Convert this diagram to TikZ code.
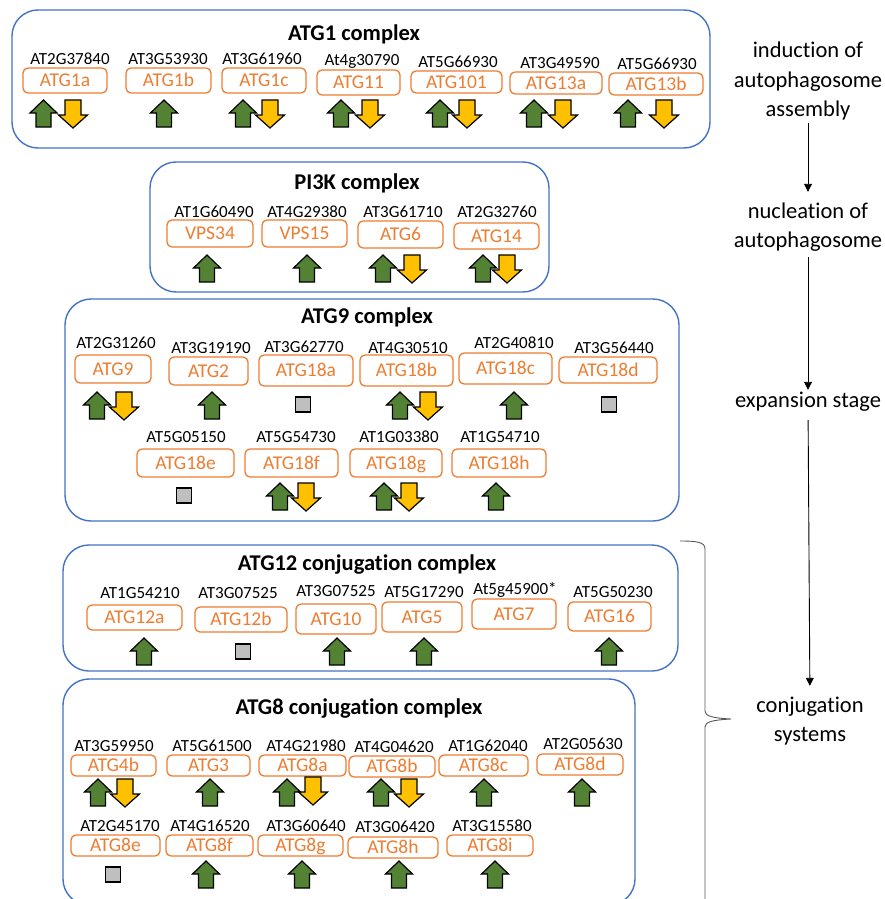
\documentclass[tikz,border=0pt]{standalone}
\usepackage{fontspec}
\setmainfont{Carlito}[Ligatures={NoCommon}]
\usetikzlibrary{arrows.meta}
\definecolor{cblue}{HTML}{4472C4}
\definecolor{corange}{HTML}{ED7D31}
\definecolor{cgreen}{HTML}{548235}
\definecolor{cyellow}{HTML}{FFC000}
\definecolor{cgray}{HTML}{BFBFBF}
\tikzset{
  cplx/.style={draw=cblue, line width=1.4pt, rounded corners=26pt},
  genebox/.style={draw=corange, text=corange, line width=1.3pt, rounded corners=5pt, inner sep=0pt,
    font=\fontsize{19.5}{21}\selectfont, text height=12.5pt, text depth=0pt},
  idlbl/.style={inner sep=0pt, font=\fontsize{17}{19}\selectfont, text height=11pt, text depth=0pt},
  ttl/.style={inner sep=0pt, font=\fontsize{22.5}{26}\selectfont\bfseries, text height=14.5pt, text depth=0pt},
  stage/.style={inner sep=2pt, font=\fontsize{22.5}{26}\selectfont, text height=15pt, text depth=5pt, anchor=base},
  upar/.style={fill=cgreen, draw=black, line width=1.2pt},
  dnar/.style={fill=cyellow, draw=black, line width=1.2pt},
  sqr/.style={fill=cgray, draw=black, line width=1.2pt},
  flow/.style={draw=black, line width=0.9pt, -{Triangle[width=8pt,length=8pt]}},
  bracepath/.style={draw=black!65, line width=0.9pt},
}
\newcommand\garr[2]{\draw[upar] (#1,#2) -- ++(13.5,13) -- ++(-6,0) -- ++(0,14) -- ++(-15,0) -- ++(0,-14) -- ++(-6,0) -- cycle;}
\newcommand\yarr[2]{\draw[dnar] ({#1-8},#2) -- ++(16,0) -- ++(0,15) -- ++(6.5,0) -- ++(-14.5,13) -- ++(-14.5,-13) -- ++(6.5,0) -- cycle;}
\newcommand\gsq[2]{\draw[sqr] ({#1-7.5},#2) rectangle ++(15,15);}
\newcommand\gene[9]{%
  \node[genebox, minimum width={(#4-#3)*1pt}, minimum height={(#6-#5)*1pt}] (#1) at ({(#3+#4)/2},{(#5+#6)/2}) {#2};
  \node[idlbl] (#1id) at (#8,#9) {#7};}
\begin{document}
\begin{tikzpicture}[x=1pt,y=-1pt]
\useasboundingbox (0,0) rectangle (885,899);
\clip (0,0) rectangle (885,899);
\fill[white] (0,0) rectangle (885,899);

% ---------- ATG1 complex
\draw[cplx] (12,10) rectangle (710,148);
\node[ttl] (t1) at (354,33) {ATG1 complex};
\gene{g1a}{ATG1a}{23}{107}{68}{93}{AT2G37840}{70}{59}
\gene{g1b}{ATG1b}{126}{211}{68}{93}{AT3G53930}{168}{59}
\gene{g1c}{ATG1c}{222}{306}{68}{93}{AT3G61960}{262}{59}
\gene{g11}{ATG11}{317}{400}{70}{95}{At4g30790}{362}{60}
\gene{g101}{ATG101}{411}{502}{71}{93}{AT5G66930}{458}{62}
\gene{g13a}{ATG13a}{510}{602}{72}{94}{AT3G49590}{560}{63}
\gene{g13b}{ATG13b}{609}{703}{73}{95}{AT5G66930}{657}{64}
\garr{43.5}{100}\yarr{73}{100}
\garr{164}{100}
\garr{243}{100}\yarr{270}{100}
\garr{341}{100}\yarr{370}{100}
\garr{440}{100}\yarr{467}{100}
\garr{534}{100}\yarr{563}{100}
\garr{628}{100}\yarr{664}{100}

% ---------- PI3K complex
\draw[cplx] (150,162) rectangle (549,292);
\node[ttl] (t2) at (357,182) {PI3K complex};
\gene{vps34}{VPS34}{167}{253}{220}{247}{AT1G60490}{214}{212}
\gene{vps15}{VPS15}{262}{347}{220}{247}{AT4G29380}{307}{212}
\gene{g6}{ATG6}{358}{443}{221}{248}{AT3G61710}{403}{212}
\gene{g14}{ATG14}{454}{539}{223}{249}{AT2G32760}{497}{212}
\garr{207}{255}
\garr{307}{255}
\garr{383}{255}\yarr{412}{255}
\garr{483}{255}\yarr{507}{255}

% ---------- ATG9 complex
\draw[cplx] (65,299) rectangle (679,521);
\node[ttl] (t3) at (367,316) {ATG9 complex};
\gene{g9}{ATG9}{75}{151}{355}{383}{AT2G31260}{116}{343}
\gene{g2}{ATG2}{169}{248}{357}{385}{AT3G19190}{211}{348}
\gene{g18a}{ATG18a}{259}{353}{355}{386}{AT3G62770}{304}{347}
\gene{g18b}{ATG18b}{360}{453}{355}{386}{AT4G30510}{408}{348}
\gene{g18c}{ATG18c}{459}{552}{353}{384}{AT2G40810}{514}{343}
\gene{g18d}{ATG18d}{559}{657}{357}{383}{AT3G56440}{614}{348}
\garr{97}{392}\yarr{124}{392}
\garr{212}{392}
\gsq{303}{397}
\garr{400}{392}\yarr{428}{392}
\garr{514}{392}
\gsq{609}{397}
\gene{g18e}{ATG18e}{137}{234}{449}{477}{AT5G05150}{186}{437}
\gene{g18f}{ATG18f}{245}{338}{449}{477}{AT5G54730}{296}{437}
\gene{g18g}{ATG18g}{350}{442}{449}{477}{AT1G03380}{399}{437}
\gene{g18h}{ATG18h}{452}{546}{449}{477}{AT1G54710}{500}{437}
\gsq{184}{488}
\garr{280}{483}\yarr{306}{483}
\garr{384}{483}\yarr{409}{483}
\garr{496}{483}

% ---------- ATG12 conjugation complex
\draw[cplx] (63,545) rectangle (678,671);
\node[ttl] (t4) at (367,563) {ATG12 conjugation complex};
\gene{g12a}{ATG12a}{87}{182}{605}{630}{AT1G54210}{140}{593}
\gene{g12b}{ATG12b}{195}{287}{607}{632}{AT3G07525}{238}{593}
\gene{g10}{ATG10}{296}{376}{604}{634}{AT3G07525}{336}{591}
\gene{g5}{ATG5}{382}{462}{602}{632}{AT5G17290}{424}{592}
\gene{g7}{ATG7}{472}{556}{599}{629}{At5g45900*}{515}{589}
\gene{g16}{ATG16}{568}{651}{602}{631}{AT5G50230}{613}{592}
\garr{144}{638}
\gsq{243}{644}
\garr{337}{638}
\garr{424}{638}
\garr{609}{638}

% ---------- ATG8 conjugation complex
\draw[cplx] (63,679) rectangle (635,905);
\node[ttl] (t5) at (359,707) {ATG8 conjugation complex};
\gene{g4b}{ATG4b}{71}{156}{755}{776}{AT3G59950}{114}{746}
\gene{g3}{ATG3}{167}{250}{755}{776}{AT5G61500}{212}{746}
\gene{g8a}{ATG8a}{259}{346}{755}{776}{AT4G21980}{306}{746}
\gene{g8b}{ATG8b}{349}{435}{756}{777}{AT4G04620}{394}{747}
\gene{g8c}{ATG8c}{439}{528}{755}{776}{AT1G62040}{488}{746}
\gene{g8d}{ATG8d}{537}{623}{754}{775}{AT2G05630}{583}{744}
\garr{98}{779}\yarr{125}{779}
\garr{210}{779}
\garr{287}{779}\yarr{313}{777}
\garr{381}{779}\yarr{409}{779}
\garr{484}{779}
\garr{582}{779}
\gene{g8e}{ATG8e}{71}{160}{835}{856}{AT2G45170}{120}{826}
\gene{g8f}{ATG8f}{166}{253}{835}{856}{AT4G16520}{210}{826}
\gene{g8g}{ATG8g}{258}{343}{835}{856}{AT3G60640}{306}{826}
\gene{g8h}{ATG8h}{348}{438}{837}{858}{AT3G06420}{395}{827}
\gene{g8i}{ATG8i}{447}{533}{835}{856}{AT3G15580}{492}{826}
\gsq{113}{867}
\garr{206}{861}
\garr{302}{861}
\garr{399}{861}
\garr{495}{861}

% ---------- stages
\node[stage] (ind1) at (808,57) {induction of};
\node[stage] (ind2) at (808,87) {autophagosome};
\node[stage] (ind3) at (808,116) {assembly};
\node[stage] (nuc1) at (808,218) {nucleation of};
\node[stage] (nuc2) at (808,247) {autophagosome};
\node[stage] (expn) at (808,407) {expansion stage};
\node[stage] (conj1) at (810,712) {conjugation};
\node[stage] (conj2) at (810,741) {systems};
\draw[flow, shorten >=9pt] (ind3) -- (nuc1);
\draw[flow, shorten <=3pt] (nuc2) -- (expn);
\draw[flow, shorten <=6pt, shorten >=9pt] (expn) -- (conj1);
\draw[bracepath] (680,541) .. controls (697,541) and (705,542) .. (705,549) -- (705,711)
  .. controls (705,716) and (712,718) .. (731,719)
  .. controls (712,720) and (705,722) .. (705,727) -- (705,905);
\end{tikzpicture}
\end{document}
